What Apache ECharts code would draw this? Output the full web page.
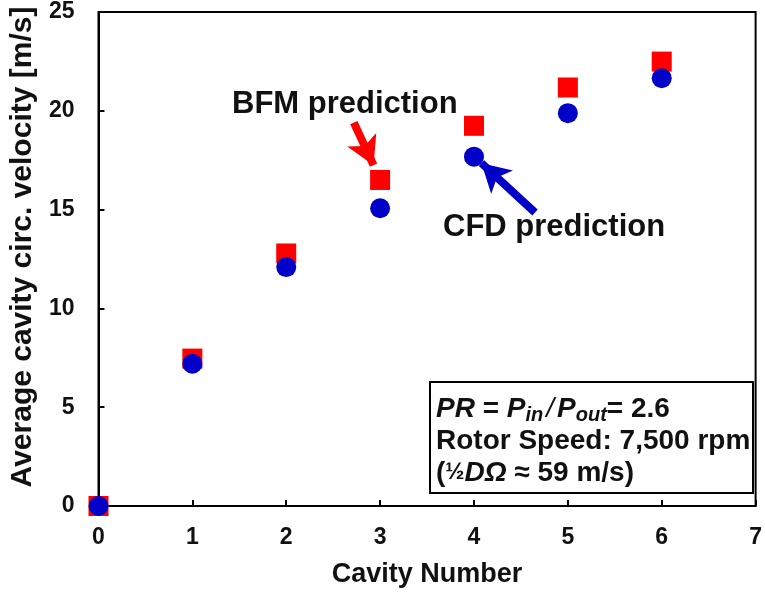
<!DOCTYPE html>
<html>
<head>
<meta charset="utf-8">
<script src="https://cdn.jsdelivr.net/npm/echarts@6/dist/echarts.min.js"></script>
<style>
  html, body { margin: 0; padding: 0; background: #fff; }
  #chart { width: 765px; height: 596px; }
</style>
</head>
<body>
<div id="chart"></div>
<script>
// Data
const cavities = [0, 1, 2, 3, 4, 5, 6]
const bfmVelocity = [0, 7.46, 12.78, 16.5, 19.24, 21.18, 22.49]
const cfdVelocity = [0, 7.2, 12.09, 15.07, 17.68, 19.88, 21.65]
const yTicks = [0, 5, 10, 15, 20, 25]
const xTicks = [0, 1, 2, 3, 4, 5, 6, 7]

// arrows in data space: [tail, tip]
const bfmArrow = [[2.72, 19.4], [2.93, 17.25]]
const cfdArrow = [[4.65, 14.85], [4.08, 17.35]]

const font = 'Liberation Sans, Arial, sans-serif'
const ink = '#111'

const chart = echarts.init(document.getElementById('chart'), null, { renderer: 'canvas' })

const arrowLine = (pts, color) => ({
  silent: true,
  symbol: ['none', 'arrow'],
  symbolSize: [24, 28],
  label: { show: false },
  lineStyle: { color: color, width: 8, type: 'solid', opacity: 1 },
  itemStyle: { color: color },
  emphasis: { disabled: true },
  data: [[{ coord: pts[0] }, { coord: pts[1] }]]
})

const option = {
  animation: false,
  grid: {
    left: 97,
    right: 5,
    top: 12,
    bottom: 90,
    show: true,
    borderColor: '#000',
    borderWidth: 2
  },
  xAxis: {
    type: 'value',
    min: xTicks[0],
    max: xTicks[xTicks.length - 1],
    interval: 1,
    name: 'Cavity Number',
    nameLocation: 'middle',
    nameGap: 55,
    nameTextStyle: { fontFamily: font, fontWeight: 'bold', fontSize: 27, color: ink },
    axisLine: { lineStyle: { color: '#000', width: 2 } },
    axisTick: { inside: true, length: 6, lineStyle: { color: '#000', width: 2 } },
    axisLabel: { fontFamily: font, fontWeight: 'bold', fontSize: 23, color: ink, margin: 20 },
    splitLine: { show: false }
  },
  yAxis: {
    type: 'value',
    min: yTicks[0],
    max: yTicks[yTicks.length - 1],
    interval: 5,
    name: 'Average cavity circ. velocity [m/s]',
    nameLocation: 'middle',
    nameGap: 56,
    nameTextStyle: { fontFamily: font, fontWeight: 'bold', fontSize: 30, color: ink, padding: [0, 0, 0, 24] },
    axisLine: { lineStyle: { color: '#000', width: 2 } },
    axisTick: { inside: true, length: 6, lineStyle: { color: '#000', width: 2 } },
    axisLabel: { fontFamily: font, fontWeight: 'bold', fontSize: 23, color: ink, margin: 24 },
    splitLine: { show: false }
  },
  series: [
    {
      name: 'BFM prediction',
      type: 'scatter',
      symbol: 'rect',
      symbolSize: 20,
      clip: false,
      itemStyle: { color: '#ff0000', opacity: 1 },
      data: cavities.map((c, i) => [c, bfmVelocity[i]]),
      markLine: arrowLine(bfmArrow, '#ff0000')
    },
    {
      name: 'CFD prediction',
      type: 'scatter',
      symbol: 'circle',
      symbolSize: 20,
      clip: false,
      itemStyle: { color: '#0000c8', opacity: 1 },
      data: cavities.map((c, i) => [c, cfdVelocity[i]]),
      markLine: arrowLine(cfdArrow, '#0000c8')
    }
  ],
  graphic: [
    {
      type: 'text',
      left: 232,
      top: 89,
      style: { text: 'BFM prediction', font: 'bold 31px ' + font, fill: ink }
    },
    {
      type: 'text',
      left: 443,
      top: 212,
      style: { text: 'CFD prediction', font: 'bold 31px ' + font, fill: ink }
    },
    {
      type: 'rect',
      shape: { x: 430, y: 382, width: 323, height: 111 },
      style: { fill: '#fff', stroke: '#000', lineWidth: 2 }
    },
    {
      type: 'text',
      left: 436,
      top: 391,
      style: {
        text: '{i|PR} = {i|P}{s|in}{n|/}{i|P}{s|out}= 2.6\nRotor Speed: 7,500 rpm\n({h|½}{i|DΩ} ≈ 59 m/s)',
        font: 'bold 28px ' + font,
        fill: ink,
        lineHeight: 32,
        rich: {
          i: { fontStyle: 'italic', fontWeight: 'bold', fontSize: 28, fontFamily: font, fill: ink },
          s: { fontStyle: 'italic', fontWeight: 'bold', fontSize: 20, fontFamily: font, fill: ink, verticalAlign: 'bottom', lineHeight: 26, padding: [14, 0, 0, 0] },
          n: { fontWeight: 'normal', fontStyle: 'italic', fontSize: 28, fontFamily: font, fill: ink, padding: [0, 3, 0, 3] },
          h: { fontWeight: 'bold', fontSize: 23, fontFamily: font, fill: ink }
        }
      }
    }
  ]
}

chart.setOption(option)
</script>
</body>
</html>
